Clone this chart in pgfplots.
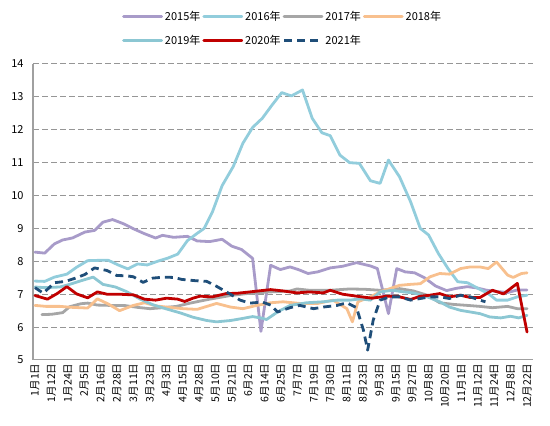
\documentclass[border=0pt]{standalone}
\usepackage{fontspec}
\setmainfont{Noto Sans CJK SC}
\usepackage{pgfplots}
\pgfplotsset{compat=1.18}
\definecolor{c15}{RGB}{168,155,201}
\definecolor{c16}{RGB}{146,205,220}
\definecolor{c17}{RGB}{166,166,166}
\definecolor{c18}{RGB}{248,192,142}
\definecolor{c19}{RGB}{140,199,211}
\definecolor{c20}{RGB}{192,0,0}
\definecolor{c21}{RGB}{31,78,121}
\definecolor{gridc}{RGB}{150,150,150}
\definecolor{axc}{RGB}{160,160,160}
\begin{document}
\begin{tikzpicture}
\path[use as bounding box] (0pt,0pt) rectangle (550pt,426pt);
\begin{axis}[
  at={(33pt,66pt)}, anchor=south west,
  scale only axis, width=500pt, height=296pt,
  xmin=-1.44, xmax=359.3, ymin=5, ymax=14,
  axis x line*=bottom, axis y line*=left,
  axis line style={axc, line width=1pt},
  major tick length=0pt,
  ytick={5,6,...,14},
  xtick={0,11.833,23.667,35.5,47.333,59.167,71,82.833,94.667,106.5,118.333,130.167,142,153.833,165.667,177.5,189.333,201.167,213,224.833,236.667,248.5,260.333,272.167,284,295.833,307.667,319.5,331.333,343.167,355},
  xticklabels={1月1日,1月12日,1月24日,2月5日,2月16日,2月28日,3月11日,3月23日,4月3日,4月15日,4月28日,5月10日,5月21日,6月2日,6月14日,6月25日,7月7日,7月19日,7月30日,8月11日,8月23日,9月3日,9月15日,9月27日,10月8日,10月20日,11月1日,11月12日,11月24日,12月8日,12月22日},
  xticklabel style={rotate=90, anchor=east, font=\fontsize{10.5}{12}\selectfont},
  yticklabel style={font=\fontsize{11}{12}\selectfont, xshift=-6pt},
  /pgf/number format/assume math mode=true,
  ymajorgrids,
  grid style={gridc, line width=1pt, dash pattern=on 5.5pt off 3.5pt},
  legend columns=4,
  legend style={at={(axis description cs:0.178,1.185)}, anchor=north west, draw=none, fill=none,
    font=\fontsize{11}{12}\selectfont, inner sep=0pt, /tikz/row sep=9pt},
  legend cell align=left,
  legend image code/.code={\draw[#1, line width=2.8pt] (0pt,0pt) -- (38pt,0pt);},
  every axis plot/.append style={line width=2.8pt, line join=round},
]
\addplot[c15, line cap=round] coordinates {
(0,8.28)(7,8.25)(14,8.53)(20,8.65)(27,8.71)(36,8.89)(43,8.94)(49,9.19)(56,9.27)(64,9.14)(71,8.99)(79,8.84)(87,8.71)(92,8.79)(100,8.73)(110,8.76)(117,8.62)(126,8.6)(135,8.67)(142,8.46)(149,8.36)(157,8.09)(163,5.87)(170,7.88)(177,7.75)(184,7.83)(190,7.75)(197,7.63)(204,7.68)(213,7.8)(222,7.85)(232,7.96)(242,7.86)(247,7.78)(255,6.41)(261,7.78)(267,7.68)(274,7.65)(281,7.5)(289,7.25)(297,7.11)(304,7.18)(312,7.23)(319,7.19)(326,7.12)(334,7.08)(341,7.05)(348,7.13)(355,7.13)
};
\addlegendentry{2015年}
\addplot[c16, line cap=round] coordinates {
(0,7.4)(7,7.39)(14,7.52)(23,7.61)(30,7.82)(38,8.02)(46,8.03)(53,8.03)(60,7.89)(67,7.77)(74,7.92)(81,7.89)(89,8.01)(96,8.1)(103,8.22)(110,8.63)(117,8.85)(122,9.0)(128,9.5)(135,10.3)(143,10.88)(150,11.59)(157,12.07)(164,12.35)(171,12.75)(178,13.13)(185,13.03)(193,13.21)(200,12.35)(207,11.91)(213,11.82)(220,11.23)(227,11.0)(234,10.98)(242,10.45)(249,10.37)(255,11.08)(263,10.57)(271,9.81)(278,9.0)(284,8.8)(291,8.24)(298,7.78)(305,7.38)(312,7.35)(320,7.17)(327,7.02)(333,6.82)(341,6.82)(348,6.92)(355,6.97)
};
\addlegendentry{2016年}
\addplot[c17, line cap=round] coordinates {
(5,6.38)(12,6.39)(20,6.44)(25,6.62)(33,6.71)(38,6.73)(45,6.67)(54,6.66)(64,6.66)(74,6.6)(83,6.56)(92,6.59)(102,6.63)(112,6.73)(126,6.85)(141,6.96)(155,7.03)(170,7.07)(184,7.1)(189,7.16)(198,7.12)(213,7.12)(227,7.16)(238,7.15)(249,7.12)(263,7.17)(273,7.1)(283,6.97)(292,6.74)(302,6.69)(312,6.66)(321,6.63)(330,6.59)(341,6.63)(348,6.56)(355,6.56)
};
\addlegendentry{2017年}
\addplot[c18, line cap=round] coordinates {
(0,6.66)(8,6.63)(18,6.63)(27,6.6)(38,6.58)(45,6.86)(53,6.7)(61,6.5)(71,6.66)(79,6.74)(88,6.64)(97,6.6)(107,6.56)(117,6.54)(124,6.63)(131,6.72)(141,6.61)(150,6.56)(160,6.66)(170,6.74)(179,6.77)(191,6.72)(204,6.72)(215,6.82)(225,6.56)(229,6.16)(233,6.77)(242,6.92)(249,7.07)(256,7.17)(263,7.27)(271,7.3)(278,7.32)(285,7.53)(292,7.63)(299,7.61)(307,7.78)(314,7.83)(321,7.83)(327,7.78)(333,7.98)(341,7.58)(345,7.51)(351,7.63)(355,7.65)
};
\addlegendentry{2018年}
\addplot[c19, line cap=round] coordinates {
(0,7.22)(7,7.2)(18,7.22)(25,7.3)(34,7.42)(42,7.52)(49,7.3)(58,7.22)(66,7.08)(76,6.85)(85,6.68)(95,6.55)(105,6.43)(114,6.3)(124,6.2)(131,6.16)(141,6.2)(148,6.25)(157,6.32)(164,6.27)(167,6.23)(175,6.46)(184,6.66)(196,6.74)(208,6.77)(218,6.82)(227,6.82)(235,6.86)(242,6.82)(249,7.07)(258,7.12)(266,7.07)(273,7.04)(283,6.92)(292,6.77)(299,6.61)(307,6.51)(314,6.46)(321,6.41)(328,6.31)(336,6.28)(343,6.33)(349,6.28)(355,6.36)
};
\addlegendentry{2019年}
\addplot[c20, line cap=round] coordinates {
(0,6.96)(9,6.85)(16,7.02)(23,7.23)(30,7.01)(38,6.89)(45,7.07)(52,7.0)(61,7.0)(71,6.98)(79,6.85)(87,6.82)(95,6.88)(103,6.85)(108,6.78)(114,6.88)(119,6.94)(128,6.92)(138,7.02)(146,7.03)(155,7.07)(170,7.14)(179,7.1)(189,7.04)(198,7.07)(208,7.04)(213,7.12)(222,7.0)(232,6.94)(243,6.88)(254,6.94)(261,6.94)(271,6.84)(278,6.94)(285,6.97)(292,7.02)(299,6.92)(307,6.97)(314,6.9)(321,6.9)(330,7.12)(338,7.01)(348,7.33)(355,5.85)
};
\addlegendentry{2020年}
\addplot[c21, dash pattern=on 8pt off 5pt] coordinates {
(0,7.2)(6,7.03)(14,7.35)(22,7.39)(30,7.5)(36,7.6)(43,7.8)(52,7.72)(59,7.57)(66,7.56)(71,7.53)(78,7.36)(85,7.49)(93,7.52)(100,7.51)(106,7.45)(116,7.41)(124,7.39)(131,7.24)(141,7.0)(148,6.82)(155,6.73)(164,6.76)(170,6.67)(175,6.46)(184,6.59)(191,6.66)(201,6.56)(208,6.61)(218,6.66)(225,6.74)(232,6.59)(237,5.9)(240,5.3)(244,6.21)(249,6.82)(256,6.92)(263,6.92)(271,6.82)(278,6.87)(285,6.92)(292,6.92)(299,6.87)(307,6.97)(314,6.92)(321,6.82)(325,6.77)
};
\addlegendentry{2021年}
\end{axis}
\end{tikzpicture}
\end{document}
